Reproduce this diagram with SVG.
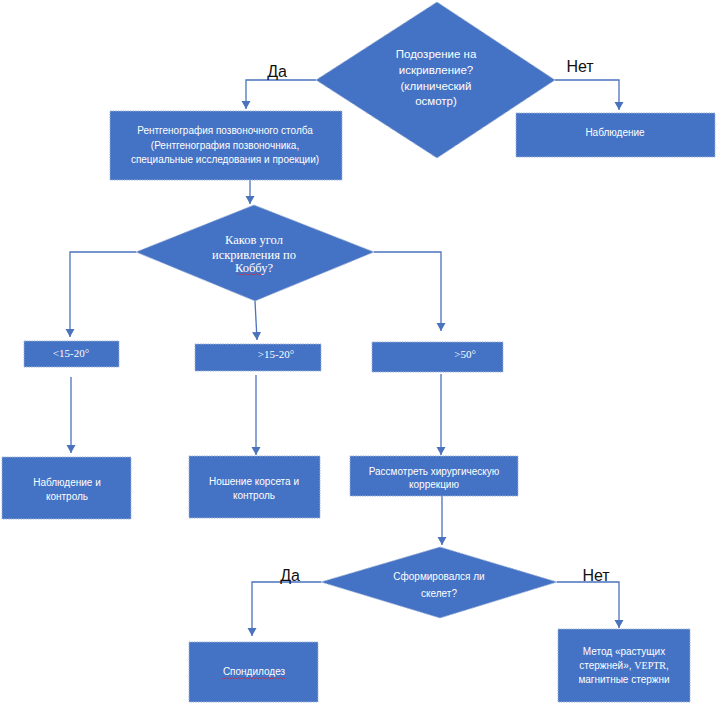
<svg xmlns="http://www.w3.org/2000/svg" width="717" height="703" viewBox="0 0 717 703">
<defs>
<style>
.shape{fill:#4472C4;stroke:#9fb2d6;stroke-width:1;stroke-dasharray:1.5 1}
.t{fill:#ffffff;font-family:"Liberation Sans","Noto Sans",sans-serif;font-size:10px;text-anchor:middle}
.td{fill:#ffffff;font-family:"Liberation Sans","Noto Sans",sans-serif;font-size:11.5px;text-anchor:middle}
.s{fill:#ffffff;font-family:"Liberation Serif","DejaVu Serif",serif;font-size:12.5px;text-anchor:middle}
.sl{fill:#ffffff;font-family:"Liberation Serif","DejaVu Serif",serif;font-size:11px;text-anchor:middle}
.lbl{fill:#111111;font-family:"Liberation Sans","Noto Sans",sans-serif;font-size:16px;text-anchor:middle}
.c{fill:none;stroke:#4a72bd;stroke-width:1.3;marker-end:url(#arr)}
.sq{fill:none;stroke:#c0304a;stroke-width:0.8}
</style>
<marker id="arr" markerUnits="userSpaceOnUse" markerWidth="10" markerHeight="10" refX="8" refY="4.5" orient="auto">
<path d="M0,0 L8,4.5 L0,9 Z" fill="#4a72bd"/>
</marker>
</defs>

<g id="connectors">
<polyline class="c" points="316,80 246,80 246,109"/>
<polyline class="c" points="555,80 619,80 619,110"/>
<polyline class="c" points="250,180 250,204"/>
<polyline class="c" points="136,252 70,252 70,337"/>
<polyline class="c" points="255,301 257,340"/>
<polyline class="c" points="374,252 441,252 441,331"/>
<polyline class="c" points="71,377 71,453"/>
<polyline class="c" points="256,375 256,455"/>
<polyline class="c" points="441,374 441,455"/>
<polyline class="c" points="442,496 442,545"/>
<polyline class="c" points="321,582 252,582 252,636"/>
<polyline class="c" points="557,582 619,582 619,628"/>
</g>

<g id="labels">
<text class="lbl" x="277" y="77">Да</text>
<text class="lbl" x="580" y="72">Нет</text>
<text class="lbl" x="290" y="581">Да</text>
<text class="lbl" x="596" y="581">Нет</text>
</g>

<g id="d-suspicion">
<polygon class="shape" points="437,2 555,80 437,158 316,80"/>
<text class="td" x="436" y="58">Подозрение на</text>
<text class="td" x="436" y="74">искривление?</text>
<text class="td" x="436" y="90">(клинический</text>
<text class="td" x="436" y="105">осмотр)</text>
</g>

<g id="n-xray">
<rect class="shape" x="110" y="111" width="232" height="69"/>
<text class="t" x="225" y="134">Рентгенография позвоночного столба</text>
<text class="t" x="225" y="148.5">(Рентгенография позвоночника,</text>
<text class="t" x="225" y="162.5">специальные исследования и проекции)</text>
</g>

<g id="n-observe">
<rect class="shape" x="516" y="113" width="199" height="44"/>
<text class="t" x="615" y="136">Наблюдение</text>
</g>

<g id="d-angle">
<polygon class="shape" points="254,205 374,252 255,301 136,252"/>
<text class="s" x="254" y="244">Каков угол</text>
<text class="s" x="254" y="259">искривления по</text>
<text class="s" x="254" y="272">Коббу?</text>
<path class="sq" d="M237,275 l1.5,-1.5 l1.5,1.5 l1.5,-1.5 l1.5,1.5 l1.5,-1.5 l1.5,1.5 l1.5,-1.5 l1.5,1.5 l1.5,-1.5 l1.5,1.5 l1.5,-1.5 l1.5,1.5 l1.5,-1.5 l1.5,1.5 l1.5,-1.5 l1.5,1.5"/>
</g>

<g id="n-lt15">
<rect class="shape" x="24" y="341" width="95" height="26"/>
<text class="sl" x="71" y="357">&lt;15-20°</text>
</g>

<g id="n-gt15">
<rect class="shape" x="195" y="344" width="126" height="27"/>
<text class="sl" x="276" y="358">&gt;15-20°</text>
</g>

<g id="n-gt50">
<rect class="shape" x="372" y="342" width="131" height="30"/>
<text class="sl" x="465" y="358">&gt;50°</text>
</g>

<g id="n-observe-control">
<rect class="shape" x="2" y="457" width="129" height="62"/>
<text class="t" x="67" y="486">Наблюдение и</text>
<text class="t" x="67" y="499.5">контроль</text>
</g>

<g id="n-corset">
<rect class="shape" x="189" y="456" width="131" height="62"/>
<text class="t" x="254" y="485">Ношение корсета и</text>
<text class="t" x="254" y="499">контроль</text>
</g>

<g id="n-surgery">
<rect class="shape" x="350" y="456" width="168" height="40"/>
<text class="t" x="434" y="475">Рассмотреть хирургическую</text>
<text class="t" x="434" y="488">коррекцию</text>
</g>

<g id="d-skeleton">
<polygon class="shape" points="440,547 557,582 440,618 321,582"/>
<text class="t" x="439" y="580">Сформировался ли</text>
<text class="t" x="439" y="597">скелет?</text>
</g>

<g id="n-fusion">
<rect class="shape" x="189" y="642" width="129" height="60"/>
<text class="t" x="254" y="675">Спондилодез</text>
<path class="sq" d="M222,679 l1.5,-1.5 l1.5,1.5 l1.5,-1.5 l1.5,1.5 l1.5,-1.5 l1.5,1.5 l1.5,-1.5 l1.5,1.5 l1.5,-1.5 l1.5,1.5 l1.5,-1.5 l1.5,1.5 l1.5,-1.5 l1.5,1.5 l1.5,-1.5 l1.5,1.5 l1.5,-1.5 l1.5,1.5 l1.5,-1.5 l1.5,1.5 l1.5,-1.5 l1.5,1.5 l1.5,-1.5 l1.5,1.5 l1.5,-1.5 l1.5,1.5 l1.5,-1.5 l1.5,1.5 l1.5,-1.5 l1.5,1.5 l1.5,-1.5 l1.5,1.5 l1.5,-1.5 l1.5,1.5 l1.5,-1.5 l1.5,1.5 l1.5,-1.5 l1.5,1.5 l1.5,-1.5 l1.5,1.5 l1.5,-1.5 l1.5,1.5"/>
</g>

<g id="n-growing-rods">
<rect class="shape" x="558" y="629" width="132" height="73"/>
<text class="t" x="624" y="655">Метод «растущих</text>
<text class="t" x="624" y="669">стержней», <tspan font-family="Liberation Serif, serif">VEPTR</tspan>,</text>
<text class="t" x="624" y="683">магнитные стержни</text>
</g>
</svg>
